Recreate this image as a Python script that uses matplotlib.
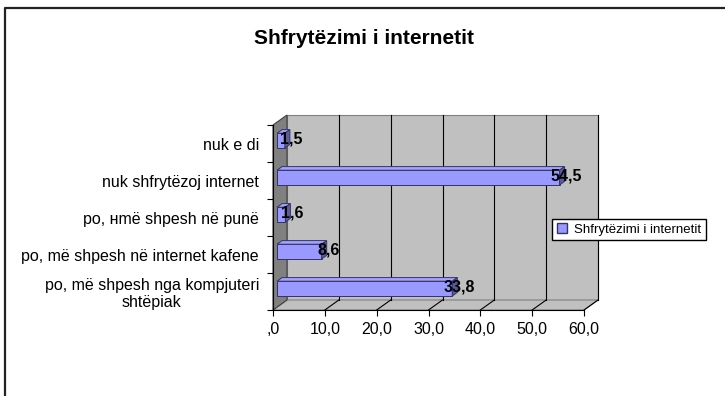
import matplotlib.pyplot as plt
from matplotlib.lines import Line2D
from matplotlib.patches import Polygon, Patch

plt.rcParams["font.family"] = ["Liberation Sans", "DejaVu Sans"]

# data, bottom to top
categories = [
    "po, më shpesh nga kompjuteri\nshtëpiak",
    "po, më shpesh në internet kafene",
    "po, нmë shpesh në punë",
    "nuk shfrytëzoj internet",
    "nuk e di",
]
values = [33.8, 8.6, 1.6, 54.5, 1.5]
value_labels = ["33,8", "8,6", "1,6", "54,5", "1,5"]
x_ticks = [0, 10, 20, 30, 40, 50, 60]
x_tick_labels = [",0", "10,0", "20,0", "30,0", "40,0", "50,0", "60,0"]
title = "Shfrytëzimi i internetit"
series_name = "Shfrytëzimi i internetit"

W, H = 725, 396
fig = plt.figure(figsize=(W / 100, H / 100), dpi=100)

# front plane of the plot area in pixels
x0_px, x1_px = 273, 584
yb_px, yt_px = 310, 125
ax = fig.add_axes([x0_px / W, 1 - yb_px / H, (x1_px - x0_px) / W, (yb_px - yt_px) / H])
ax.set_xlim(0, 60)
ax.set_ylim(0, len(categories))
ax.patch.set_visible(False)

# depth offset of the back wall, in data units
DX = 14 / ((x1_px - x0_px) / 60)
DY = 10 / ((yb_px - yt_px) / len(categories))
n = len(categories)

wall_kw = dict(clip_on=False, linewidth=0.8)
ax.add_patch(Polygon([(DX, DY), (60 + DX, DY), (60 + DX, n + DY), (DX, n + DY)],
                     facecolor="#c0c0c0", edgecolor="#808080", zorder=1, **wall_kw))
ax.add_patch(Polygon([(0, 0), (60, 0), (60 + DX, DY), (DX, DY)],
                     facecolor="#c0c0c0", edgecolor="#808080", zorder=1, **wall_kw))
ax.add_patch(Polygon([(0, 0), (DX, DY), (DX, n + DY), (0, n)],
                     facecolor="#808080", edgecolor="#404040", zorder=1, **wall_kw))

for xv in x_ticks[1:]:
    ax.plot([xv + DX, xv + DX], [DY, n + DY], color="black", lw=0.8, zorder=2, clip_on=False)
    ax.plot([xv, xv + DX], [0, DY], color="black", lw=0.8, zorder=2, clip_on=False)

# bars: front face via barh, top and end faces as polygons
f0, f1 = 0.29, 0.65
bar_h = 0.4
ys = [i + 0.5 + f0 * DY for i in range(n)]
ax.barh(ys, values, left=f0 * DX, height=bar_h, color="#9999ff",
        edgecolor="#333366", linewidth=0.7, zorder=4, clip_on=False)
ddx, ddy = (f1 - f0) * DX, (f1 - f0) * DY
for y, v, lab in zip(ys, values, value_labels):
    xl, xr = f0 * DX, f0 * DX + v
    top = y + bar_h / 2
    bot = y - bar_h / 2
    ax.add_patch(Polygon([(xl, top), (xr, top), (xr + ddx, top + ddy), (xl + ddx, top + ddy)],
                         facecolor="#a3a3ff", edgecolor="#333366", lw=0.7, zorder=4, clip_on=False))
    ax.add_patch(Polygon([(xr, bot), (xr + ddx, bot + ddy), (xr + ddx, top + ddy), (xr, top)],
                         facecolor="#5c5c99", edgecolor="#333366", lw=0.7, zorder=4, clip_on=False))
    ax.text(v + f1 * DX + 0.3, y + 0.03, lab, ha="center", va="center",
            fontsize=11.5, fontweight="bold", zorder=6)

# axes
for side in ("top", "right"):
    ax.spines[side].set_visible(False)
ax.spines["left"].set_zorder(3)
ax.spines["bottom"].set_zorder(3)
ax.set_xticks(x_ticks)
ax.set_xticklabels(x_tick_labels, fontsize=11.5)
ax.tick_params(axis="x", direction="out", length=4, width=0.8, pad=5)
ax.set_yticks(range(n + 1))
ax.set_yticklabels([])
ax.set_yticks([i + 0.5 for i in range(n)], minor=True)
ax.set_yticklabels(categories, minor=True, fontsize=11.5, multialignment="center")
ax.tick_params(axis="y", which="major", direction="out", length=4, width=0.8)
ax.tick_params(axis="y", which="minor", length=0, pad=10)

fig.text(364 / W, 1 - 38 / H, title, ha="center", va="center", fontsize=15, fontweight="bold")

fig.legend(handles=[Patch(facecolor="#9999ff", edgecolor="#333366", label=series_name)],
           loc="center left", bbox_to_anchor=(552 / W, 1 - 229.5 / H), fontsize=9.5,
           frameon=True, fancybox=False, edgecolor="black", framealpha=1,
           handlelength=0.8, handleheight=0.8, handletextpad=0.5, borderpad=0.35,
           borderaxespad=0)

# outer chart border: only its left and top edges fall inside the image
fig.add_artist(Line2D([5 / W, 5 / W, 1.0], [0.0, 1 - 8 / H, 1 - 8 / H],
                      transform=fig.transFigure, color="#222222", linewidth=1.6))

fig.savefig("out.png", dpi=100)
